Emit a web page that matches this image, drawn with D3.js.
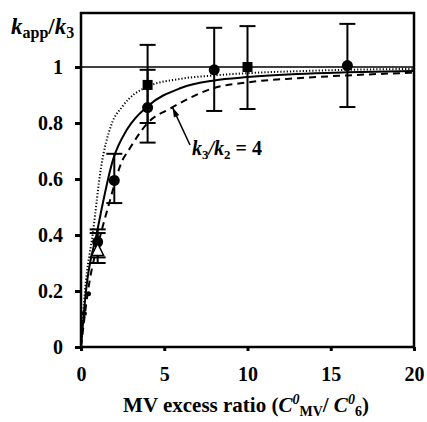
<!DOCTYPE html>
<html><head><meta charset="utf-8">
<script src="https://cdn.jsdelivr.net/npm/d3@7"></script>
<style>body{margin:0;background:#fff}text{font-family:"Liberation Serif","Times New Roman",serif;font-weight:bold}</style>
</head><body><svg id="c" width="427" height="422"></svg>
<script>
// ---- data ----
const xTicks = [0, 5, 10, 15, 20];
const yTicks = [0, 0.2, 0.4, 0.6, 0.8, 1];
const yTickLabels = ["0", "0.2", "0.4", "0.6", "0.8", "1"];
// model curves
const dottedCurve = [[0,0],[0.24,0.2],[0.72,0.41],[1.2,0.64],[1.8,0.79],[2.5,0.86],[4,0.93],[6,0.958],[8,0.97],[10,0.978],[13,0.985],[16,0.99],[20,0.993]];
const solidCurve  = [[0,0],[0.3,0.2],[0.96,0.41],[1.93,0.67],[2.8,0.78],[4,0.86],[6,0.925],[8,0.952],[10,0.964],[13,0.975],[16,0.981],[20,0.986]];
const dashedCurve = [[0,0],[0.42,0.2],[1.2,0.407],[1.63,0.5],[2.5,0.668],[2.83,0.70],[4,0.80],[5.4,0.853],[8,0.925],[10,0.945],[13,0.96],[16,0.97],[20,0.98]];
// measured points: x, y, lower, upper
const circles = [[0.2,0.12,null,null],[0.45,0.19,null,null],[1,0.375,0.32,0.42],[2,0.595,0.514,0.69],[4,0.855,0.73,0.99],[8,0.99,0.843,1.14],[16,1.005,0.857,1.154]];
const squares = [[4,0.936,0.8,1.079],[10,1.0,0.85,1.146]];
const triangles = [[1,0.345,0.30,0.407]];

// ---- layout ----
const svg = d3.select("#c");
const L = 81, R = 414, T = 13, B = 347;
const x = d3.scaleLinear().domain([0, 20]).range([L, R]);
const y = d3.scaleLinear().domain([0, 1]).range([B, 67]);

// y=1 reference line
svg.append("line").attr("x1", L).attr("x2", R).attr("y1", y(1)).attr("y2", y(1))
  .attr("stroke", "#000").attr("stroke-width", 1.5);

const line = d3.line().x(d => x(d[0])).y(d => y(d[1])).curve(d3.curveMonotoneX);
svg.append("path").attr("d", line(dottedCurve)).attr("fill", "none").attr("stroke", "#000")
  .attr("stroke-width", 2).attr("stroke-dasharray", "1.2,2");
svg.append("path").attr("d", line(solidCurve)).attr("fill", "none").attr("stroke", "#000")
  .attr("stroke-width", 2);
svg.append("path").attr("d", line(dashedCurve)).attr("fill", "none").attr("stroke", "#000")
  .attr("stroke-width", 2).attr("stroke-dasharray", "7,5");

// error bars
const allPts = circles.concat(squares, triangles).filter(d => d[2] !== null);
const eb = svg.append("g").attr("stroke", "#000").attr("stroke-width", 2);
allPts.forEach(d => {
  eb.append("line").attr("x1", x(d[0])).attr("x2", x(d[0])).attr("y1", y(d[2])).attr("y2", y(d[3]));
  [d[2], d[3]].forEach(v => eb.append("line").attr("x1", x(d[0]) - 8).attr("x2", x(d[0]) + 8)
    .attr("y1", y(v)).attr("y2", y(v)));
});

// markers
svg.selectAll(".ci").data(circles).join("circle")
  .attr("cx", d => x(d[0])).attr("cy", d => y(d[1])).attr("r", (d) => d[2] === null ? 2.5 : 5.5).attr("fill", "#000");
svg.selectAll(".sq").data(squares).join("rect")
  .attr("x", d => x(d[0]) - 5).attr("y", d => y(d[1]) - 5).attr("width", 10).attr("height", 10).attr("fill", "#000");
svg.selectAll(".tr").data(triangles).join("path")
  .attr("d", d => { const cx = x(d[0]), cy = y(d[1]); return `M${cx},${cy-7}L${cx+6},${cy+5}L${cx-6},${cy+5}Z`; })
  .attr("fill", "#fff").attr("stroke", "#000").attr("stroke-width", 1.5);

// frame
svg.append("rect").attr("x", L).attr("y", T).attr("width", R - L).attr("height", B - T)
  .attr("fill", "none").attr("stroke", "#000").attr("stroke-width", 2.5);

// axes
const xAxis = svg.append("g").attr("transform", `translate(0,${B})`)
  .call(d3.axisBottom(x).tickValues(xTicks).tickSize(4).tickPadding(16).tickFormat(d3.format("d")));
const yAxis = svg.append("g").attr("transform", `translate(${L},0)`)
  .call(d3.axisLeft(y).tickValues(yTicks).tickSize(6).tickPadding(12).tickFormat((d, i) => yTickLabels[i]));
[xAxis, yAxis].forEach(g => {
  g.select(".domain").remove();
  g.selectAll(".tick line").attr("stroke", "#000").attr("stroke-width", 3);
  g.selectAll(".tick text").attr("fill", "#000").style("font-size", "20px")
    .style("font-family", '"Liberation Serif",serif').style("font-weight", "bold");
});

// y title
const yt = svg.append("text").attr("x", 11).attr("y", 34).style("font-size", "23px");
yt.append("tspan").style("font-style", "italic").text("k");
yt.append("tspan").attr("dy", 4).style("font-size", "16px").text("app");
yt.append("tspan").attr("dy", -4).text("/");
yt.append("tspan").style("font-style", "italic").text("k");
yt.append("tspan").attr("dy", 4).style("font-size", "16px").text("3");

// x title
const xt = svg.append("text").attr("x", 246).attr("y", 412).attr("text-anchor", "middle").style("font-size", "21px");
xt.append("tspan").text("MV excess ratio (");
xt.append("tspan").style("font-style", "italic").text("C");
xt.append("tspan").attr("dy", -8).style("font-size", "14px").style("font-style", "italic").text("0");
xt.append("tspan").attr("dy", 12).style("font-size", "14px").text("MV");
xt.append("tspan").attr("dy", -4).text("/ ");
xt.append("tspan").style("font-style", "italic").text("C");
xt.append("tspan").attr("dy", -8).style("font-size", "14px").style("font-style", "italic").text("0");
xt.append("tspan").attr("dy", 12).style("font-size", "14px").text("6");
xt.append("tspan").attr("dy", -4).text(")");

// annotation
const an = svg.append("text").attr("x", 192).attr("y", 155).style("font-size", "20px");
an.append("tspan").style("font-style", "italic").text("k");
an.append("tspan").attr("dy", 4).style("font-size", "13px").text("3");
an.append("tspan").attr("dy", -4).style("font-style", "italic").text("/k");
an.append("tspan").attr("dy", 4).style("font-size", "13px").text("2");
an.append("tspan").attr("dy", -4).text(" = 4");
const ax0 = 190, ay0 = 145, ax1 = x(5.5), ay1 = y(0.855);
svg.append("line").attr("x1", ax0).attr("y1", ay0).attr("x2", ax1).attr("y2", ay1)
  .attr("stroke", "#000").attr("stroke-width", 1.5);
const ang = Math.atan2(ay1 - ay0, ax1 - ax0);
const hl = 10, hw = 0.3;
svg.append("path").attr("d", `M${ax1},${ay1}L${ax1 - hl*Math.cos(ang - hw)},${ay1 - hl*Math.sin(ang - hw)}L${ax1 - hl*Math.cos(ang + hw)},${ay1 - hl*Math.sin(ang + hw)}Z`)
  .attr("fill", "#000");
</script></body></html>
